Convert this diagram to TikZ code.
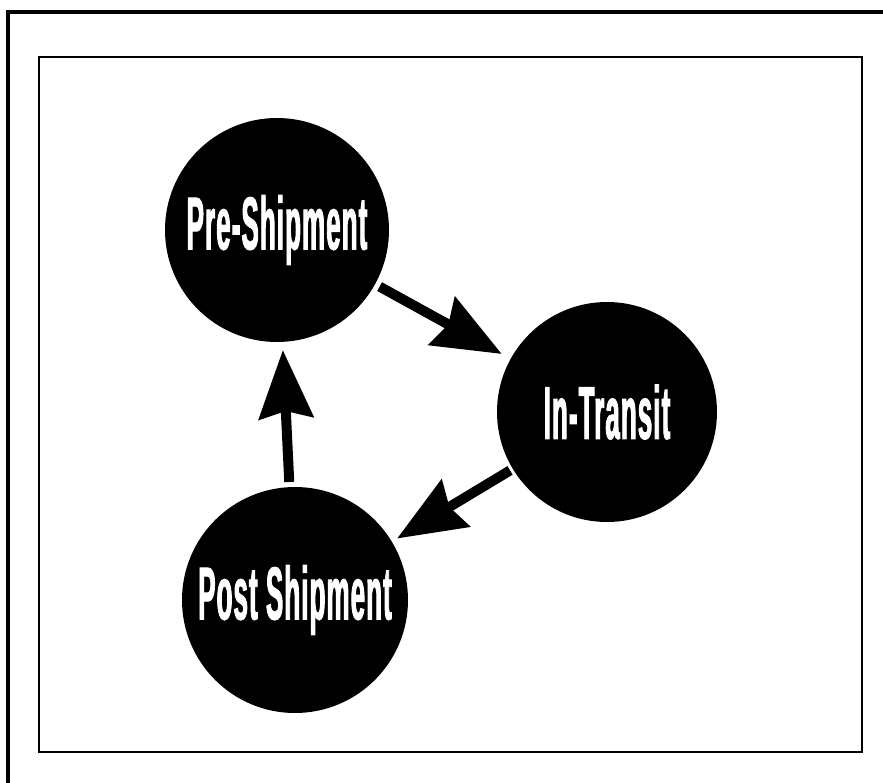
\documentclass[tikz,border=0pt]{standalone}
\usepackage{fontspec}
\newfontfamily\stagefont[FakeStretch=0.345,FakeBold=1.2,LetterSpace=1.5]{Liberation Sans}
\usetikzlibrary{arrows.meta}
\begin{document}
\begin{tikzpicture}[x=1pt,y=-1pt]
    \tikzstyle{stage}=[circle,fill=black,inner sep=0pt,text=white,
        font=\stagefont\bfseries\fontsize{75}{75}\selectfont]
    \tikzstyle{flow}=[line width=10pt,-{Stealth[length=68pt,width=54pt,inset=7pt]}]
    \useasboundingbox (0,0) rectangle (883,782);
    \clip (0,0) rectangle (883,782);
    % frames
    \draw[line width=3.5pt] (8,12) rectangle (900,800);
    \draw[line width=2.5pt] (39,57) rectangle (862,752);
    % stages
    \node[stage,minimum size=224pt] (pre) at (277,230) {Pre-Shipment};
    \node[stage,minimum size=220pt] (transit) at (607,412) {In-Transit};
    \node[stage,minimum size=226pt] (post) at (295,600) {Post Shipment};
    % cycle
    \draw[flow,shorten <=5pt,shorten >=10pt] (pre) -- (transit);
    \draw[flow,shorten <=3pt,shorten >=6pt] (transit) -- (post);
    \draw[flow,shorten <=5pt,shorten >=8pt] (post) -- (pre);
\end{tikzpicture}
\end{document}
